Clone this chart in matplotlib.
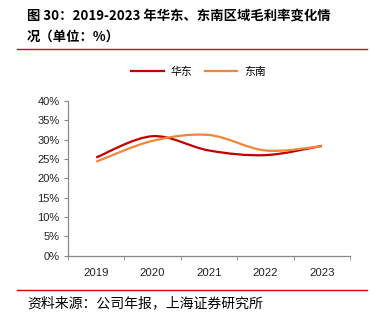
import matplotlib
matplotlib.use("Agg")
import matplotlib.pyplot as plt
import numpy as np
from matplotlib.path import Path
from matplotlib.patches import PathPatch
from matplotlib.lines import Line2D

plt.rcParams['font.family'] = ['Liberation Sans', 'Noto Sans CJK SC', 'DejaVu Sans']

years = ['2019', '2020', '2021', '2022', '2023']
east_china = [25.4, 30.9, 27.2, 26.0, 28.4]
southeast = [24.3, 29.7, 31.2, 27.2, 28.3]
series_names = ['华东', '东南']
colors = ['#C00000', '#F0863A']


def smooth_path(xs, ys):
    """Bezier path through the points, like a spreadsheet smoothed line."""
    pts = np.column_stack([xs, ys]).astype(float)
    verts = [pts[0]]
    codes = [Path.MOVETO]
    n = len(pts)
    for i in range(n - 1):
        p0 = pts[i - 1] if i > 0 else pts[i]
        p1 = pts[i]
        p2 = pts[i + 1]
        p3 = pts[i + 2] if i + 2 < n else pts[i + 1]
        c1 = p1 + (p2 - p0) / 6.0
        c2 = p2 - (p3 - p1) / 6.0
        verts += [c1, c2, p2]
        codes += [Path.CURVE4] * 3
    return Path(verts, codes)


fig = plt.figure(figsize=(3.71, 3.24), dpi=100)
ax = fig.add_axes([0.1833, 0.2108, 0.7601, 0.4775])

x = np.arange(len(years))
for vals, col in zip([east_china, southeast], colors):
    ax.add_patch(PathPatch(smooth_path(x, vals), facecolor='none',
                           edgecolor=col, lw=1.6, capstyle='butt'))

ax.set_xlim(-0.5, len(years) - 0.5)
ax.set_ylim(0, 40)
ax.set_yticks(np.arange(0, 41, 5))
ax.set_yticklabels([f'{v}%' for v in range(0, 41, 5)])
ax.set_xticks(x)
ax.set_xticklabels(years)
ax.set_xticks(np.arange(-0.5, len(years), 1), minor=True)
ax.tick_params(axis='x', which='major', length=0, pad=9, labelsize=8.2, colors='#222222')
ax.tick_params(axis='x', which='minor', length=3, direction='out', color='#888888')
ax.tick_params(axis='y', length=3, direction='out', color='#888888', labelsize=8,
               labelcolor='#222222', pad=3)
for s in ['top', 'right']:
    ax.spines[s].set_visible(False)
for s in ['left', 'bottom']:
    ax.spines[s].set_color('#888888')
    ax.spines[s].set_linewidth(0.9)

# legend
handles = [Line2D([], [], color=c, lw=1.6) for c in colors]
fig.legend(handles, series_names, loc='center', bbox_to_anchor=(0.535, 0.778),
           ncol=2, frameon=False, handlelength=3.0,
           handletextpad=0.6, columnspacing=1.2,
           prop={'family': ['Noto Sans CJK SC'], 'size': 7.8})

# title and source
fig.text(0.073, 0.953, '图 30：2019-2023 年华东、东南区域毛利率变化情',
         fontsize=9.6, fontweight='bold', family=['Noto Sans CJK SC'],
         va='center', ha='left')
fig.text(0.073, 0.886, '况（单位：%）', fontsize=9.6, fontweight='bold',
         family=['Noto Sans CJK SC'], va='center', ha='left')
fig.add_artist(Line2D([0.046, 0.99], [0.849, 0.849], color='#E00000', lw=1.0))
fig.add_artist(Line2D([0.046, 0.99], [0.105, 0.105], color='#E00000', lw=1.0))
fig.text(0.073, 0.064, '资料来源：公司年报，上海证券研究所', fontsize=10,
         family=['Noto Sans CJK SC'], va='center', ha='left')

fig.savefig('out.png', dpi=100)
